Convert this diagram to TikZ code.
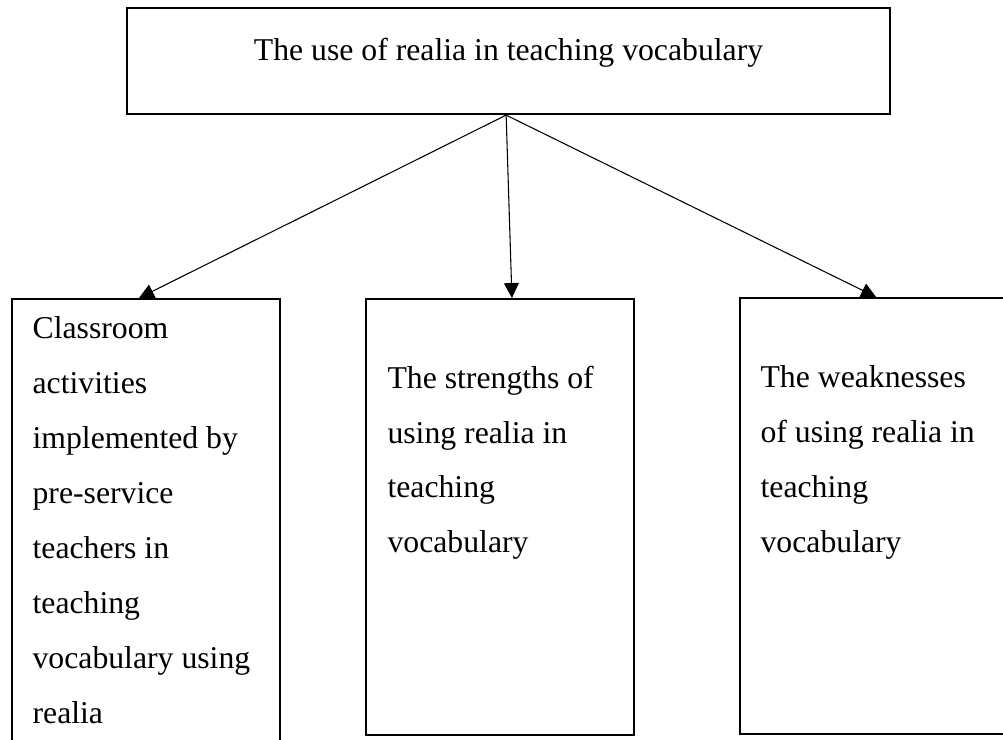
\documentclass[tikz,border=0pt]{standalone}
\usepackage{fontspec}
\setmainfont{Liberation Serif}
\usepackage{tikz}
\usetikzlibrary{arrows.meta}
\usetikzlibrary{positioning}
\newcommand{\boxfont}{\fontsize{11.9}{20.6}\selectfont}

\begin{document}
\begin{tikzpicture}[x=0.375pt,y=-0.375pt,
    box/.style={draw, line width=0.8pt, rectangle, inner sep=0pt, anchor=north west},
    boxtext/.style={inner sep=0pt, align=left, font=\boxfont},
    link/.style={line width=0.4pt, -{Triangle[length=5.6pt,width=5.6pt]}}]
    \useasboundingbox (0,0) rectangle (1003,740);
    \clip (0,0) rectangle (1003,740);
    % main topic
    \node[box, minimum width=286.1pt, minimum height=39.75pt, font=\boxfont, text depth=9pt] (topic) at (126,7) {The use of realia in teaching vocabulary};
    % the three boxes below
    \node[box, minimum width=100.5pt, minimum height=177pt] (activities) at (11,298) {};
    \node[box, minimum width=100.5pt, minimum height=163.5pt] (strengths) at (365,298) {};
    \node[box, minimum width=105.4pt, minimum height=163.5pt] (weaknesses) at (739,297) {};
    \node[boxtext, below right=6.9pt and 7.9pt of activities.north west] (activitiestext) {Classroom\\activities\\implemented by\\pre-service\\teachers in\\teaching\\vocabulary using\\realia};
    \node[boxtext, below right=25.2pt and 8.25pt of strengths.north west] (strengthstext) {The strengths of\\using realia in\\teaching\\vocabulary};
    \node[boxtext, below right=25.6pt and 7.9pt of weaknesses.north west] (weaknessestext) {The weaknesses\\of using realia in\\teaching\\vocabulary};
    % arrows
    \draw[link] ([xshift=-0.9pt]topic.south) -- ([xshift=48pt]activities.north west);
    \draw[link] ([xshift=-0.9pt]topic.south) -- ([xshift=55.1pt]strengths.north west);
    \draw[link] ([xshift=-0.9pt]topic.south) -- ([xshift=51.4pt]weaknesses.north west);
\end{tikzpicture}
\end{document}
